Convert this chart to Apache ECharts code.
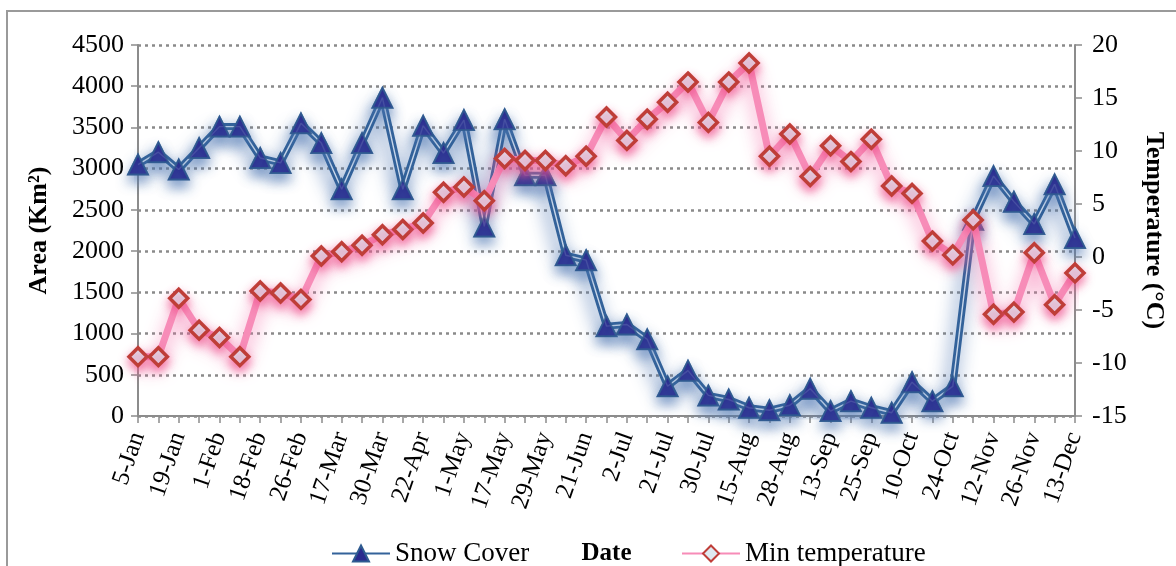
<!DOCTYPE html>
<html>
<head>
<meta charset="utf-8">
<script src="https://cdn.jsdelivr.net/npm/echarts@6/dist/echarts.min.js"></script>
<style>
html,body{margin:0;padding:0;background:#fff;}
#chart{width:1176px;height:566px;}
</style>
</head>
<body>
<div id="chart"></div>
<script>
// Dates (only every other date is labelled in the source)
const dates = ['5-Jan','','19-Jan','','1-Feb','','18-Feb','','26-Feb','','17-Mar','','30-Mar','','22-Apr','','1-May','','17-May','','29-May','','21-Jun','','2-Jul','','21-Jul','','30-Jul','','15-Aug','','28-Aug','','13-Sep','','25-Sep','','10-Oct','','24-Oct','','12-Nov','','26-Nov','','13-Dec'];
// Snow cover area (Km2)
const snowCover = [3050,3200,2990,3250,3510,3510,3130,3070,3550,3310,2750,3310,3860,2750,3520,3190,3590,2300,3600,2920,2920,1950,1890,1090,1110,930,360,550,250,200,100,70,130,330,60,180,100,40,410,180,360,2380,2910,2600,2330,2810,2160];
// Minimum temperature (°C)
const minTemp = [-9.4,-9.4,-3.9,-6.9,-7.6,-9.4,-3.2,-3.4,-4.0,0.1,0.5,1.1,2.1,2.6,3.2,6.1,6.6,5.3,9.3,9.1,9.1,8.6,9.5,13.2,11.0,13.0,14.6,16.5,12.7,16.5,18.3,9.5,11.6,7.6,10.5,9.0,11.1,6.7,6.0,1.5,0.2,3.5,-5.4,-5.2,0.4,-4.5,-1.5];
const leftTicks = {min:0, max:4500, interval:500};
const rightTicks = {min:-15, max:20, interval:5};

const FONT = '"Liberation Serif","Times New Roman",serif';
const chart = echarts.init(document.getElementById('chart'), null, {renderer:'canvas'});
const axisGray = '#8c8c8c';
chart.setOption({
  animation:false,
  backgroundColor:'#fff',
  textStyle:{fontFamily:FONT},
  graphic:[{type:'rect',shape:{x:7,y:11,width:1200,height:600},style:{fill:'none',stroke:'#9a9a9a',lineWidth:2},silent:true,z:-1}],
  grid:{left:138,right:101,top:45,bottom:150,containLabel:false,outerBoundsMode:'none'},
  legend:[
    {data:['Snow Cover'],left:326,top:535,itemWidth:58,itemHeight:20,itemGap:0,
     textStyle:{fontFamily:FONT,fontSize:27,color:'#000'}},
    {data:['Min temperature'],left:676,top:535,itemWidth:58,itemHeight:20,itemGap:0,
     textStyle:{fontFamily:FONT,fontSize:27,color:'#000'}}
  ],
  xAxis:{
    type:'category',data:dates,boundaryGap:false,
    name:'Date',nameLocation:'middle',nameGap:125,
    nameTextStyle:{fontFamily:FONT,fontSize:25,fontWeight:'bold',color:'#000'},
    axisLine:{lineStyle:{color:axisGray,width:2}},
    axisTick:{show:true,interval:0,length:7,lineStyle:{color:axisGray,width:1.5}},
    axisLabel:{interval:0,rotate:71,fontFamily:FONT,fontSize:25,color:'#000',margin:17},
    splitLine:{show:false}
  },
  yAxis:[
    {type:'value',min:leftTicks.min,max:leftTicks.max,interval:leftTicks.interval,
     name:'Area (Km²)',nameLocation:'middle',nameGap:86,nameRotate:90,
     nameTextStyle:{fontFamily:FONT,fontSize:26,fontWeight:'bold',color:'#000'},
     axisLine:{show:true,lineStyle:{color:axisGray,width:2}},
     axisTick:{show:true,length:7,lineStyle:{color:axisGray,width:1.5}},
     axisLabel:{fontFamily:FONT,fontSize:26,color:'#000',margin:14,formatter:v=>String(v)},
     splitLine:{show:true,lineStyle:{color:'#8a8a8a',width:2.5,type:[3,4]}}},
    {type:'value',min:rightTicks.min,max:rightTicks.max,interval:rightTicks.interval,position:'right',
     name:'Temperature (°C)',nameLocation:'middle',nameGap:66,nameRotate:-90,
     nameTextStyle:{fontFamily:FONT,fontSize:26,fontWeight:'bold',color:'#000'},
     axisLine:{show:true,lineStyle:{color:axisGray,width:2}},
     axisTick:{show:true,length:7,lineStyle:{color:axisGray,width:1.5}},
     axisLabel:{fontFamily:FONT,fontSize:26,color:'#000',margin:17,formatter:v=>String(v)},
     splitLine:{show:false}}
  ],
  series:[
    {name:'Snow Cover',type:'line',yAxisIndex:0,data:snowCover,z:3,
     symbol:'triangle',symbolSize:20,
     itemStyle:{color:'#2a2a8e',borderColor:'#2f5b90',borderWidth:1.5},
     lineStyle:{color:'#33629a',width:7,shadowColor:'rgba(80,120,180,0.9)',shadowBlur:18,shadowOffsetY:8,shadowOffsetX:-3}},
    {name:'snowInner',type:'line',yAxisIndex:0,data:snowCover,z:4,silent:true,
     symbol:'none',lineStyle:{color:'#c9d7ea',width:1.4}},
    {name:'snowMarks',type:'scatter',yAxisIndex:0,data:snowCover,z:5,silent:true,
     symbol:'triangle',symbolSize:20,
     itemStyle:{color:'#2a2a8e',borderColor:'#2f5b90',borderWidth:2,shadowColor:'rgba(80,120,180,0.8)',shadowBlur:12,shadowOffsetY:7}},
    {name:'Min temperature',type:'line',yAxisIndex:1,data:minTemp,z:6,
     symbol:'diamond',symbolSize:18,
     itemStyle:{color:'#dfeaf1',borderColor:'#bf3e38',borderWidth:3.5,shadowColor:'rgba(240,80,140,0.7)',shadowBlur:10,shadowOffsetY:5},
     lineStyle:{color:'#f78cb8',width:7,shadowColor:'rgba(245,110,170,0.85)',shadowBlur:18,shadowOffsetY:8}}
  ]
});
</script>
</body>
</html>
